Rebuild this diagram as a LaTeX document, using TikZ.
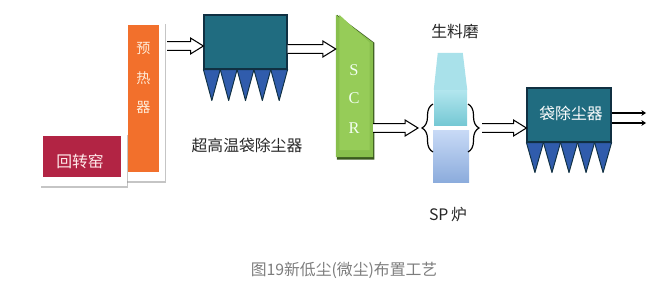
\documentclass[tikz,border=0pt]{standalone}
\usepackage{fontspec}
\setmainfont{Liberation Serif}
\newfontfamily\cjk{Noto Sans CJK SC}
\usetikzlibrary{arrows.meta,calc,decorations.pathreplacing,shadows}

\definecolor{kilncolor}{RGB}{178,36,68}
\definecolor{heatercolor}{RGB}{242,112,44}
\definecolor{filtercolor}{RGB}{32,108,128}
\definecolor{filteredge}{RGB}{16,48,66}
\definecolor{hoppercolor}{RGB}{48,92,172}
\definecolor{scrlight}{RGB}{150,204,88}
\definecolor{scrdark}{RGB}{104,160,52}
\definecolor{milltop}{RGB}{178,230,238}
\definecolor{millbottom}{RGB}{118,200,212}
\definecolor{splight}{RGB}{200,218,246}
\definecolor{spdark}{RGB}{140,172,220}
\definecolor{captiongray}{RGB}{125,125,125}
\tikzset{
  plant frame/.style={fill=white,drop shadow={shadow xshift=1pt,shadow yshift=-1.6pt,fill=black!45}},
  plant box/.style={rectangle,inner sep=0pt},
  plant filter/.style={rectangle,inner sep=0pt,draw=filteredge,line width=1pt,fill=filtercolor},
  plant hopper/.style={draw=filteredge,line width=0.8pt,fill=hoppercolor,line join=round},
  plant flow/.style={draw=black,fill=white,line width=0.9pt,line join=miter,
    to path={let \p1=(\tikztostart),\p2=(\tikztotarget) in
      (\x1,\y1+3.8pt) -- (\x2-11pt,\y1+3.8pt) -- (\x2-11pt,\y1+6.8pt) -- (\x2,\y1)
      -- (\x2-11pt,\y1-6.8pt) -- (\x2-11pt,\y1-3.8pt) -- (\x1,\y1-3.8pt)}},
  plant out/.style={-{Stealth[length=4pt,width=5pt]},line width=0.9pt},
  plant brace/.style={decorate,decoration={brace,amplitude=0.33cm},line width=1pt},
  plant label/.style={font=\cjk\fontsize{13.5}{16}\selectfont,text=black!85},
  plant inner/.style={font=\cjk\fontsize{13.5}{16}\selectfont,text=white}
}

\begin{document}
\begin{tikzpicture}[x=0.03cm,y=-0.03cm]
  \useasboundingbox (0,0) rectangle (657,284);

  \path[plant frame] (125,22) rectangle (165,181);
  \node[plant box,fill=heatercolor,minimum width=0.93cm,minimum height=4.41cm] (ph) at (143.5,98.5) {};
  \node[align=center,font=\cjk\fontsize{12}{25}\selectfont,text=orange!15] (phtext) at (143.5,78) {预\\热\\器};
  \path[plant frame] (40,133) rectangle (127,186);
  \node[plant box,fill=kilncolor,minimum width=2.34cm,minimum height=1.23cm] (kiln) at (82,156.5) {};
  \node[plant inner,text=red!8] (kilntext) at (80,161) {回转窑};

  \node[plant filter,minimum width=2.49cm,minimum height=1.62cm] (f1) at (245.5,42) {};
  \foreach \i in {0,...,4}
    \draw[plant hopper] ($(f1.south west)!\i*0.2!(f1.south east)$)
      -- ($(f1.south west)!\i*0.2+0.1!(f1.south east)+(0,31)$)
      -- ($(f1.south west)!\i*0.2+0.2!(f1.south east)$) -- cycle;
  \node[plant label] (f1text) at (247,145) {超高温袋除尘器};

  \node[plant box,minimum width=1.11cm,minimum height=4.26cm] (scr) at (354.5,86) {};
  \fill[scrdark!55!black] ([xshift=1pt]scr.north west) -- ([shift={(1pt,-0.84cm)}]scr.north east)
    -- ([shift={(1pt,-2pt)}]scr.south east) -- ([shift={(1pt,-2pt)}]scr.south west) -- cycle;
  \fill[scrlight!70!scrdark]
    (scr.north west) -- ([yshift=-0.84cm]scr.north east) -- (scr.south east) -- (scr.south west) -- cycle;
  \fill[scrlight]
    ([xshift=3pt]scr.north west) -- ([shift={(-3pt,-0.84cm)}]scr.north east) -- ([shift={(-3pt,6pt)}]scr.south east) -- ([shift={(3pt,6pt)}]scr.south west) -- cycle;
  \foreach \ch/\yy in {S/70,C/98,R/128}
    \node[text=white!95!green,font=\fontsize{14}{16}\selectfont] (scr\ch) at (354,\yy) {\ch};

  \node[plant box,top color=milltop,bottom color=millbottom,minimum width=0.99cm,minimum height=1.05cm] (mill) at (450.5,107.5) {};
  \fill[milltop!85!millbottom]
    (mill.north west) -- ++(4,-37) -- ++(25,0) -- (mill.north east) -- cycle;
  \node[plant box,top color=splight,bottom color=spdark,minimum width=1.08cm,minimum height=1.56cm] (sp) at (451,156) {};
  \node[plant label] (milltext) at (455,32) {生料磨};
  \node[plant label] (sptext) at (448,215) {SP\,炉};

  \coordinate (lbtip) at (418,128);
  \coordinate (rbtip) at (482,128);
  \draw[plant brace] (433,152) -- (433,104);
  \draw[plant brace] (468,104) -- (468,152);

  \node[plant filter,minimum width=2.52cm,minimum height=1.62cm] (f2) at (569,115) {};
  \foreach \i in {0,...,4}
    \draw[plant hopper] ($(f2.south west)!\i*0.2!(f2.south east)$)
      -- ($(f2.south west)!\i*0.2+0.1!(f2.south east)+(0,30)$)
      -- ($(f2.south west)!\i*0.2+0.2!(f2.south east)$) -- cycle;
  \node[plant inner] (f2text) at (571,113) {袋除尘器};
  \coordinate (exit) at (646,118);

  \coordinate (f1in) at ([yshift=-0.12cm]f1.west);
  \coordinate (f1out) at ([yshift=-0.21cm]f1.east);
  \draw[plant flow] ([xshift=0.24cm]ph.east |- f1in) to (f1in);
  \draw[plant flow] (f1out) to (f1out -| scr.west);
  \draw[plant flow] (scr.east |- lbtip) to (lbtip);
  \draw[plant flow] (rbtip) to (f2.west |- rbtip);
  \draw[plant out] ([yshift=0.06cm]f2.east) -- ([yshift=0.06cm]f2.east -| exit);
  \draw[plant out] ([yshift=-0.24cm]f2.east) -- ([yshift=-0.24cm]f2.east -| exit);

  \node[font=\cjk\fontsize{13.5}{16}\selectfont,text=captiongray] (caption) at (344,270) {图19新低尘(微尘)布置工艺};
\end{tikzpicture}
\end{document}
